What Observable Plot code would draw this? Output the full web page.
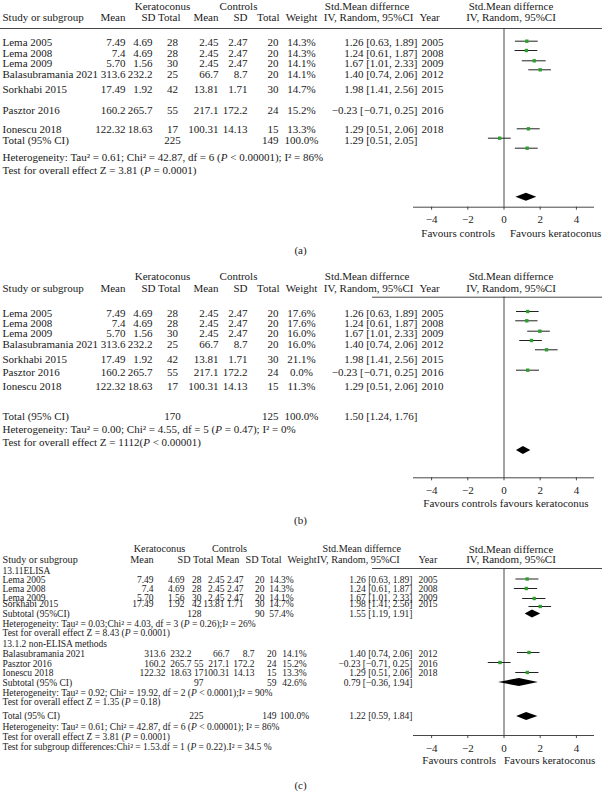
<!DOCTYPE html>
<html><head><meta charset="utf-8">
<script src="https://cdn.jsdelivr.net/npm/d3@7"></script>
<script src="https://cdn.jsdelivr.net/npm/@observablehq/plot@0.6"></script>
<style>
html,body{margin:0;padding:0;background:#fff;}
#chart svg{display:block;}
</style></head><body><div id="chart"></div>
<script>
// ================= DATA =================
const studies = ["Lema 2005","Lema 2008","Lema 2009","Balasubramania 2021","Sorkhabi 2015","Pasztor 2016","Ionescu 2018"];
const kMean  = ["7.49","7.4","5.70","313.6","17.49","160.2","122.32"];
const kSD    = ["4.69","4.69","1.56","232.2","1.92","265.7","18.63"];
const kTotal = ["28","28","30","25","42","55","17"];
const cMean  = ["2.45","2.45","2.45","66.7","13.81","217.1","100.31"];
const cSD    = ["2.47","2.47","2.47","8.7","1.71","172.2","14.13"];
const cTotal = ["20","20","20","20","30","24","15"];
const smdText = ["1.26 [0.63, 1.89]","1.24 [0.61, 1.87]","1.67 [1.01, 2.33]","1.40 [0.74, 2.06]","1.98 [1.41, 2.56]","−0.23 [−0.71, 0.25]","1.29 [0.51, 2.06]"];
const yearsA = ["2005","2008","2009","2012","2015","2016","2018"];
const yearsB = ["2005","2008","2009","2012","2015","2016","2010"];
const weightsA = ["14.3%","14.3%","14.1%","14.1%","14.7%","15.2%","13.3%"];
const weightsB = ["17.6%","17.6%","16.0%","16.0%","21.1%","0.0%","11.3%"];
const elisaIdx = [0,1,2,4];
const nonElisaIdx = [3,5,6];
const weightsC = ["14.3%","14.3%","14.1%","14.1%","14.7%","15.2%","13.3%"];
const yearsC = ["2005","2008","2009","2012","2015","2016","2018"];

// summary rows
const totalA = {study:"Total (95% CI)", kTotal:"225", cTotal:"149", weight:"100.0%", smd:"1.29 [0.51, 2.05]"};
const totalB = {study:"Total (95% CI)", kTotal:"170", cTotal:"125", weight:"100.0%", smd:"1.50 [1.24, 1.76]"};
const subC1  = {study:"Subtotal (95%CI)", kTotal:"128", cTotal:"90", weight:"57.4%", smd:"1.55 [1.19, 1.91]"};
const subC2  = {study:"Subtotal (95% CI)", kTotal:"97", cTotal:"59", weight:"42.6%", smd:"0.79 [−0.36, 1.94]"};
const totalC = {study:"Total (95% CI)", kTotal:"225", cTotal:"149", weight:"100.0%", smd:"1.22 [0.59, 1.84]"};

const notesA = ["Heterogeneity: Tau² = 0.61; Chi² = 42.87, df = 6 (P < 0.00001); I² = 86%","Test for overall effect Z = 3.81 (P = 0.0001)"];
const notesB = ["Heterogeneity: Tau² = 0.00; Chi² = 4.55, df = 5 (P = 0.47); I² = 0%","Test for overall effect Z = 1112(P < 0.00001)"];
const notesC = ["13.11ELISA",
  "Heterogeneity: Tau² = 0.03;Chi² = 4.03, df = 3 (P = 0.26);I² = 26%",
  "Test for overall effect Z = 8.43 (P = 0.0001)",
  "13.1.2 non-ELISA methods",
  "Heterogeneity: Tau² = 0.92; Chi² = 19.92, df = 2 (P < 0.0001);I² = 90%",
  "Test for overall effect Z = 1.35 (P = 0.18)",
  "Heterogeneity: Tau² = 0.61; Chi² = 42.87, df = 6 (P < 0.00001); I² = 86%",
  "Test for overall effect Z = 3.81 (P = 0.0001)",
  "Test for subgroup differences:Chi² = 1.53.df = 1 (P = 0.22).I² = 34.5 %"];

const headTextAB = ["Keratoconus","Controls","Std.Mean differnce","Study or subgroup","Mean","SD Total","Mean","SD","Total","Weight","IV, Random, 95%CI","Year"];
const headTextC  = ["Keratoconus","Controls","Std.Mean differnce","Study or subgroup","Mean","SD Total Mean","SD Total","WeightIV, Random, 95%CI","Year"];
const rightHead = ["Std.Mean differnce","IV, Random, 95%CI"];
const favoursA = ["Favours controls","Favours keratoconus"];
const favoursB = "Favours controls favours keratoconus";
const panelNames = ["(a)","(b)","(c)"];
const tickValues = [-4,-2,0,2,4];

// plotted effects, as drawn in each forest panel (est, lower, upper)
const estA = [1.26,1.24,1.67,2.00,1.35,-0.24,1.28];
const loA  = [0.63,0.61,1.01,1.37,0.73,-0.86,0.63];
const hiA  = [1.89,1.87,2.33,2.62,2.00,0.40,1.89];
const estB = [1.31,1.26,1.98,1.52,2.35,1.31];
const loB  = [0.69,0.65,1.31,0.87,1.74,0.69];
const hiB  = [1.94,1.88,2.56,2.12,2.99,1.96];
const estC = [1.28,1.23,1.67,2.00,1.38,-0.22,1.29];
const loC  = [0.66,0.57,1.03,1.38,0.74,-0.87,0.65];
const hiC  = [1.93,1.86,2.32,2.63,1.99,0.39,1.93];
const diamondEst = [1.24,1.07,1.57,0.85,1.25];
const diamondLo  = [0.66,0.69,1.17,-0.30,0.70];
const diamondHi  = [1.81,1.48,2.03,1.90,1.87];

// ================= LAYOUT (text-line positions, 1 unit = 10px) =================
const X0 = [-5, 5], XR = [413, 594];
const px2x = px => X0[0] + (px - XR[0]) * (X0[1] - X0[0]) / (XR[1] - XR[0]);

const LA = {h1:0.6, h2:1.65, rule:2.8, rows:[4.2,5.25,6.3,7.35,8.9,11.0,12.9], total:14.0, notes:[15.7,17.0],
  pts:[4.07,5.0,6.03,6.93,12.83,13.77,14.77], diamond:19.67, axis:20.67, fav:23.3, label:25.0};
const LB = {h1:27.55, h2:28.75, rule:29.67, rows:[31.25,32.25,33.3,34.35,35.85,37.2,38.6], total:41.55, notes:[42.85,44.2],
  pts:[31.1,32.03,33.07,34.0,34.93,36.97], diamond:45.0, axis:47.73, fav:50.33, label:52.0};
const LC = {h1:54.85, h2:55.9, rule:56.8, notes:[57.0,62.3,63.25,64.3,69.2,70.1,72.6,73.6,74.6],
  rows1:[57.9,58.8,59.7,60.3], sub1:61.35, rows2:[65.3,66.3,67.25], sub2:68.2, total:71.55,
  pts:[57.85,58.8,59.8,60.6,65.2,66.2,67.2], diamonds:[61.35,68.2,71.6], axis:73.5, fav:76.0, label:78.5};

const colAB = [{k:"study",x:2,a:"start"},{k:"kMean",x:125,a:"end"},{k:"kSD",x:152,a:"end"},{k:"kTotal",x:172,a:"middle"},
  {k:"cMean",x:218,a:"end"},{k:"cSD",x:247,a:"end"},{k:"cTotal",x:278,a:"end"},{k:"weight",x:301,a:"middle"},
  {k:"smd",x:417,a:"end"},{k:"year",x:421,a:"start"}];
const colC1 = [{k:"study",x:2,a:"start"},{k:"kMean",x:153,a:"end"},{k:"kSD",x:184,a:"end"},{k:"kTotal",x:201,a:"end"},
  {k:"cMean",x:224,a:"end"},{k:"cSD",x:243,a:"end"},{k:"cTotal",x:264,a:"end"},{k:"weight",x:281,a:"middle"},
  {k:"smd",x:412,a:"end"},{k:"year",x:418,a:"start"}];
const colC2 = [{k:"study",x:2,a:"start"},{k:"kMean",x:165,a:"end"},{k:"kSD",x:191,a:"end"},{k:"kTotal",x:203,a:"end"},
  {k:"cMean",x:229,a:"end"},{k:"cSD",x:254,a:"end"},{k:"cTotal",x:276,a:"end"},{k:"weight",x:294,a:"middle"},
  {k:"smd",x:412,a:"end"},{k:"year",x:418,a:"start"}];
const headPosAB = [{x:162,a:"middle",r:1},{x:238,a:"middle",r:1},{x:409,a:"end",r:1},{x:2,a:"start",r:2},{x:125,a:"end",r:2},
  {x:180,a:"end",r:2},{x:218,a:"end",r:2},{x:247,a:"end",r:2},{x:279,a:"end",r:2},{x:301,a:"middle",r:2},{x:413,a:"end",r:2},{x:419,a:"start",r:2}];
const headPosC = [{x:159,a:"middle",r:1},{x:229,a:"middle",r:1},{x:322,a:"start",r:1},{x:2,a:"start",r:2},{x:153,a:"end",r:2},
  {x:177,a:"start",r:2},{x:245,a:"start",r:2},{x:287,a:"start",r:2},{x:418,a:"start",r:2}];
const sizeAB = 11, sizeCHead = 10.2, sizeCBody = 9.5;

// ================= BUILD =================
const studyRow = (i, w, y, line) => ({study:studies[i], kMean:kMean[i], kSD:kSD[i], kTotal:kTotal[i], cMean:cMean[i], cSD:cSD[i], cTotal:cTotal[i], weight:w[i], smd:smdText[i], year:y[i], line});
const rowsA = studies.map((s,i) => studyRow(i, weightsA, yearsA, LA.rows[i])).concat([{...totalA, line:LA.total}]);
const rowsB = studies.map((s,i) => studyRow(i, weightsB, yearsB, LB.rows[i])).concat([{...totalB, line:LB.total}]);
const rowsC1 = elisaIdx.map((i,j) => studyRow(i, weightsC, yearsC, LC.rows1[j])).concat([{...subC1, line:LC.sub1}]);
const rowsC2 = nonElisaIdx.map((i,j) => { const r = studyRow(i, weightsC, yearsC, LC.rows2[j]); if (i === 3) r.kTotal = null; return r; })
  .concat([{...subC2, line:LC.sub2}, {...totalC, line:LC.total}]);

const cells = [];
const addRows = (rows, cols, size) => rows.forEach(r => cols.forEach(c => { if (r[c.k] != null && r[c.k] !== "") cells.push({t:r[c.k], px:c.x, line:r.line, a:c.a, size}); }));
addRows(rowsA, colAB, sizeAB); addRows(rowsB, colAB, sizeAB); addRows(rowsC1, colC1, sizeCBody); addRows(rowsC2, colC2, sizeCBody);
headTextAB.forEach((t,i) => { const p = headPosAB[i];
  cells.push({t, px:p.x, a:p.a, size:sizeAB, line: p.r === 1 ? LA.h1 : LA.h2});
  cells.push({t, px:p.x, a:p.a, size:sizeAB, line: p.r === 1 ? LB.h1 : LB.h2}); });
headTextC.forEach((t,i) => { const p = headPosC[i]; cells.push({t, px:p.x, a:p.a, size:sizeCHead, line: p.r === 1 ? LC.h1 : LC.h2}); });
notesA.forEach((t,i) => cells.push({t, px:2, a:"start", size:sizeAB, line:LA.notes[i]}));
notesB.forEach((t,i) => cells.push({t, px:2, a:"start", size:sizeAB, line:LB.notes[i]}));
notesC.forEach((t,i) => cells.push({t, px:2, a:"start", size:sizeCBody, line:LC.notes[i]}));
[LA, LB, LC].forEach((L,i) => cells.push({t:panelNames[i], px:300, a:"middle", size:sizeAB, line:L.label}));

const groups = d3.groups(cells, d => d.a + "|" + d.size);
const textMarks = groups.map(([key, g]) => Plot.text(g, {x: d => px2x(d.px), y:"line", text:"t",
  textAnchor: g[0].a, fontSize: g[0].size, fill:"#1a1a1a"}));

const axes = [{line:LA.axis, top:LA.rule}, {line:LB.axis, top:LB.rule}, {line:LC.axis, top:LC.rule}];
const ticks = axes.flatMap(a => tickValues.map(t => ({t, line:a.line})));
const pts = [
  ...estA.map((e,i) => ({est:e, lo:loA[i], hi:hiA[i], line:LA.pts[i]})),
  ...estB.map((e,i) => ({est:e, lo:loB[i], hi:hiB[i], line:LB.pts[i]})),
  ...estC.map((e,i) => ({est:e, lo:loC[i], hi:hiC[i], line:LC.pts[i]}))];
const dLines = [LA.diamond, LB.diamond, ...LC.diamonds];
const dHalf = 0.4;
const diaPts = diamondEst.flatMap((e,i) => [
  {id:i, line:dLines[i]-dHalf, x1:e, x2:e},
  {id:i, line:dLines[i], x1:diamondLo[i], x2:diamondHi[i]},
  {id:i, line:dLines[i]+dHalf, x1:e, x2:e}]);
const headRules = [{line:LA.rule, from:0, to:602}, {line:LB.rule, from:372, to:602}, {line:LC.rule, from:372, to:602}];
const rightHeads = [LA, LB, LC].flatMap(L => rightHead.map((t,i) => ({t, line: i === 0 ? L.h1 : L.h2})));

const chart = Plot.plot({
  width:602, height:804, margin:0,
  x:{domain:X0, range:XR, axis:null},
  y:{domain:[0,80.4], range:[0,804], axis:null},
  style:{fontFamily:"'Liberation Serif','Times New Roman',serif", background:"#fff", color:"#1a1a1a"},
  marks:[
    Plot.ruleY(headRules, {y:"line", x1:d => px2x(d.from), x2:d => px2x(d.to), stroke:"#333", strokeWidth:0.9}),
    Plot.ruleX(axes, {x:0, y1:"top", y2:"line", stroke:"#333", strokeWidth:0.9}),
    Plot.ruleY(axes, {y:"line", x1:X0[0], x2:X0[1], stroke:"#333", strokeWidth:0.9}),
    Plot.ruleX(ticks, {x:"t", y1:"line", y2:d => d.line + 0.3, stroke:"#333", strokeWidth:0.9}),
    Plot.text(ticks, {x:"t", y:d => d.line + 1.25, text:d => d.t < 0 ? "−" + (-d.t) : String(d.t), fontSize:11, fill:"#1a1a1a"}),
    Plot.ruleY(pts, {y:"line", x1:"lo", x2:"hi", stroke:"#222", strokeWidth:1}),
    Plot.dot(pts, {x:"est", y:"line", symbol:"square", r:1.9, fill:"#2e9e2e", stroke:null}),
    Plot.areaX(diaPts, {y:"line", x1:"x1", x2:"x2", z:"id", fill:"#000", curve:"linear"}),
    Plot.text(rightHeads, {x:0, dx:7, y:"line", text:"t", fontSize:11, fill:"#1a1a1a"}),
    Plot.text([{t:favoursA[0], line:LA.fav}], {x:0, dx:-9, y:"line", text:"t", textAnchor:"end", fontSize:11, fill:"#1a1a1a"}),
    Plot.text([{t:favoursA[1], line:LA.fav}], {x:0, dx:6, y:"line", text:"t", textAnchor:"start", fontSize:11, fill:"#1a1a1a"}),
    Plot.text([{t:favoursA[0], line:LC.fav}], {x:0, dx:-8, y:"line", text:"t", textAnchor:"end", fontSize:11, fill:"#1a1a1a"}),
    Plot.text([{t:favoursA[1], line:LC.fav}], {x:0, dx:0, y:"line", text:"t", textAnchor:"start", fontSize:11, fill:"#1a1a1a"}),
    Plot.text([{t:favoursB, line:LB.fav}], {x:0, dx:2, y:"line", text:"t", fontSize:11, fill:"#1a1a1a"}),
    ...textMarks
  ]
});
document.getElementById("chart").appendChild(chart);

// italic P in statistics
chart.querySelectorAll("text").forEach(t => {
  const s = t.textContent;
  if (t.children.length === 0 && /\(P [<=]/.test(s)) {
    t.textContent = "";
    s.split(/(\(P )/).forEach(part => {
      if (part === "(P ") {
        t.appendChild(document.createTextNode("("));
        const ts = document.createElementNS("http://www.w3.org/2000/svg", "tspan");
        ts.setAttribute("font-style", "italic"); ts.textContent = "P";
        t.appendChild(ts); t.appendChild(document.createTextNode(" "));
      } else t.appendChild(document.createTextNode(part));
    });
  }
});
</script>
</body></html>
